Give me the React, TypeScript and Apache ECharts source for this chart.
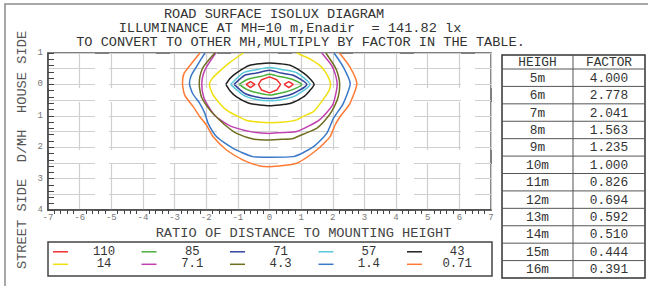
import React, { useEffect, useRef } from "react";
import * as echarts from "echarts";

const titleLines = [
  "ROAD SURFACE ISOLUX DIAGRAM",
  "ILLUMINANCE AT MH=10 m,Enadir  = 141.82 lx",
  "TO CONVERT TO OTHER MH,MULTIPLY BY FACTOR IN THE TABLE.",
];
const xName = "RATIO OF DISTANCE TO MOUNTING HEIGHT";
const yName = "STREET SIDE  D/MH  HOUSE SIDE";

const levels = ["110", "85", "71", "57", "43", "14", "7.1", "4.3", "1.4", "0.71"];
const tableHeader = ["HEIGH", "FACTOR"];
const heights = ["5m", "6m", "7m", "8m", "9m", "10m", "11m", "12m", "13m", "14m", "15m", "16m"];
const factors = ["4.000", "2.778", "2.041", "1.563", "1.235", "1.000", "0.826", "0.694", "0.592", "0.510", "0.444", "0.391"];

// contour polylines [x ratio, y ratio] (house side positive)
const c110center = [[-0.35, 0], [-0.25, 0.15], [0, 0.24], [0.23, 0.15], [0.35, 0], [0.23, -0.18], [0, -0.27], [-0.25, -0.18], [-0.35, 0]];
const c110left = [[-0.74, 0], [-0.6, 0.09], [-0.46, 0], [-0.6, -0.1], [-0.74, 0]];
const c110right = [[0.46, 0], [0.61, 0.09], [0.75, 0], [0.61, -0.1], [0.46, 0]];
const c85 = [[-0.96, 0], [-0.72, 0.15], [-0.46, 0.22], [-0.25, 0.26], [0, 0.32], [0.28, 0.26], [0.5, 0.22], [0.75, 0.15], [1.02, 0], [0.75, -0.16], [0.5, -0.24], [0, -0.34], [-0.5, -0.24], [-0.72, -0.16], [-0.96, 0]];
const c71 = [[-1.12, 0], [-0.78, 0.29], [-0.41, 0.36], [0, 0.45], [0.37, 0.36], [0.75, 0.29], [1.18, 0], [0.75, -0.29], [0.37, -0.4], [0, -0.45], [-0.41, -0.4], [-0.78, -0.29], [-1.12, 0]];
const c57 = [[-1.23, 0], [-0.83, 0.37], [-0.41, 0.47], [0, 0.54], [0.42, 0.47], [0.86, 0.37], [1.28, 0], [0.86, -0.34], [0.42, -0.48], [0, -0.52], [-0.41, -0.48], [-0.83, -0.34], [-1.23, 0]];
const c43 = [[-1.38, 0], [-1.25, 0.19], [-1.04, 0.37], [-0.62, 0.61], [0, 0.68], [0.65, 0.61], [1.07, 0.37], [1.27, 0.19], [1.41, 0], [1.27, -0.2], [1.07, -0.4], [0.65, -0.61], [0, -0.68], [-0.62, -0.61], [-1.04, -0.4], [-1.25, -0.2], [-1.38, 0]];
const c14 = [[-0.83, 1.0], [-1.25, 0.7], [-1.6, 0.4], [-1.8, 0.2], [-1.9, 0.0], [-1.8, -0.3], [-1.57, -0.61], [-1.36, -0.82], [-1.0, -1.02], [-0.72, -1.15], [-0.35, -1.2], [0, -1.22], [0.45, -1.2], [0.86, -1.13], [1.1, -1.0], [1.4, -0.86], [1.72, -0.45], [1.88, -0.2], [1.93, 0.0], [1.85, 0.25], [1.65, 0.55], [1.3, 0.8], [0.86, 1.0]];
const c7_1 = [[-1.7, 1.0], [-1.99, 0.56], [-2.1, 0.3], [-2.14, 0.0], [-2.08, -0.4], [-1.92, -0.72], [-1.72, -1.0], [-1.45, -1.2], [-1.15, -1.36], [-0.52, -1.52], [0, -1.56], [0.5, -1.53], [0.86, -1.5], [1.25, -1.32], [1.59, -1.12], [1.85, -0.85], [2.02, -0.6], [2.14, 0.0], [2.07, 0.35], [1.96, 0.61], [1.65, 1.0]];
const c4_3 = [[-1.73, 1.0], [-2.09, 0.56], [-2.2, 0.25], [-2.22, 0.0], [-2.15, -0.4], [-1.88, -0.82], [-1.57, -1.14], [-1.3, -1.38], [-1.04, -1.56], [-0.52, -1.74], [0, -1.77], [0.4, -1.75], [0.75, -1.72], [1.15, -1.55], [1.49, -1.4], [1.75, -1.15], [1.96, -0.87], [2.17, -0.4], [2.22, 0.0], [2.17, 0.3], [2.07, 0.56], [1.78, 1.0]];
const c1_4 = [[-2.04, 1.0], [-2.31, 0.56], [-2.47, 0.29], [-2.53, 0.03], [-2.43, -0.29], [-2.2, -0.61], [-2.04, -0.93], [-1.94, -1.24], [-1.67, -1.67], [-1.15, -2.04], [-0.52, -2.3], [0, -2.32], [0.75, -2.3], [1.38, -1.99], [1.81, -1.56], [2.02, -1.08], [2.33, -0.61], [2.55, 0.03], [2.33, 0.56], [2.04, 1.0]];
const c0_71 = [[-2.2, 1.0], [-2.47, 0.66], [-2.7, 0.35], [-2.75, 0.03], [-2.68, -0.34], [-2.41, -0.71], [-2.2, -1.03], [-1.99, -1.3], [-1.78, -1.67], [-1.36, -2.09], [-0.83, -2.41], [-0.3, -2.6], [0, -2.62], [0.86, -2.51], [1.49, -2.09], [1.91, -1.67], [2.07, -1.3], [2.23, -1.03], [2.54, -0.61], [2.76, 0.03], [2.54, 0.56], [2.21, 1.0]];

const contours: [number, number[][]][] = [
  [0, c110center], [0, c110left], [0, c110right],
  [1, c85], [2, c71], [3, c57], [4, c43],
  [5, c14], [6, c7_1], [7, c4_3], [8, c1_4], [9, c0_71],
];

const colors = ["#f03030", "#4caf3c", "#34449c", "#58c8da", "#202020", "#f0e010", "#c040b0", "#6e6e1e", "#3a78c8", "#ff7b33"];
const FONT = "'Liberation Mono', 'DejaVu Sans Mono', monospace";

function buildOption() {
  const graphic: any[] = [];
  graphic.push({ type: "rect", shape: { x: 5, y: 4, width: 700, height: 400 }, style: { fill: "none", stroke: "#8a8a8a", lineWidth: 1.5 }, silent: true });
  const titleX = [274, 290, 300.5];
  const titleY = [14.6, 28.3, 42];
  titleLines.forEach((t, i) => {
    graphic.push({ type: "text", x: titleX[i], y: titleY[i], style: { text: t, fontSize: 13.6, fontFamily: FONT, fill: "#333", align: "center", verticalAlign: "middle" } });
  });
  graphic.push({ type: "text", x: 22, y: 150, rotation: Math.PI / 2, style: { text: yName, fontSize: 13.7, fontFamily: FONT, fill: "#555", align: "center", verticalAlign: "middle" } });
  graphic.push({ type: "text", x: 303.5, y: 233, style: { text: xName, fontSize: 13.7, fontFamily: FONT, fill: "#444", align: "center", verticalAlign: "middle" } });
  // legend
  graphic.push({ type: "rect", shape: { x: 48, y: 242, width: 444, height: 34 }, style: { fill: "none", stroke: "#444", lineWidth: 1.5 } });
  levels.forEach((lv, i) => {
    const row = Math.floor(i / 5);
    const col = i % 5;
    const ly = 251.8 + row * 12.5;
    const lx = 53 + col * 88.5;
    graphic.push({ type: "line", shape: { x1: lx, y1: ly, x2: lx + 15, y2: ly }, style: { stroke: colors[i], lineWidth: 1.5 } });
    graphic.push({ type: "text", x: 104 + col * 88.3, y: ly, style: { text: lv, fontSize: 12.3, fontFamily: FONT, fill: "#333", align: "center", verticalAlign: "middle" } });
  });
  // table
  const tL = 502, tR = 645, tT = 55, tB = 278, tD = 573, hH = 14;
  const rowH = (tB - tT - hH) / heights.length;
  graphic.push({ type: "rect", shape: { x: tL, y: tT, width: tR - tL, height: tB - tT }, style: { fill: "none", stroke: "#333", lineWidth: 1.5 } });
  graphic.push({ type: "line", shape: { x1: tD, y1: tT, x2: tD, y2: tB }, style: { stroke: "#555", lineWidth: 1 } });
  graphic.push({ type: "text", x: (tL + tD) / 2, y: tT + hH / 2 + 0.5, style: { text: tableHeader[0], fontSize: 12.8, fontFamily: FONT, fill: "#333", align: "center", verticalAlign: "middle" } });
  graphic.push({ type: "text", x: (tD + tR) / 2, y: tT + hH / 2 + 0.5, style: { text: tableHeader[1], fontSize: 12.8, fontFamily: FONT, fill: "#333", align: "center", verticalAlign: "middle" } });
  heights.forEach((h, i) => {
    const y0 = tT + hH + i * rowH;
    graphic.push({ type: "line", shape: { x1: tL, y1: y0, x2: tR, y2: y0 }, style: { stroke: "#555", lineWidth: 1 } });
    graphic.push({ type: "text", x: (tL + tD) / 2, y: y0 + rowH / 2 + 0.5, style: { text: h, fontSize: 12.8, fontFamily: FONT, fill: "#333", align: "center", verticalAlign: "middle" } });
    graphic.push({ type: "text", x: (tD + tR) / 2, y: y0 + rowH / 2 + 0.5, style: { text: factors[i], fontSize: 12.8, fontFamily: FONT, fill: "#333", align: "center", verticalAlign: "middle" } });
  });

  const series = contours.map(([li, data]) => ({
    type: "line",
    data,
    showSymbol: false,
    symbol: "none",
    smooth: li === 0 ? false : 0.2,
    clip: true,
    silent: true,
    lineStyle: { color: colors[li], width: 1.5 },
    xAxisIndex: 0,
    yAxisIndex: 0,
  }));

  return {
    animation: false,
    backgroundColor: "#fff",
    grid: { left: 48, top: 53, width: 443, height: 157, show: true, borderColor: "#555", borderWidth: 1.5, backgroundColor: "transparent" },
    xAxis: {
      type: "value",
      min: -7,
      max: 7,
      interval: 1,
      axisLine: { onZero: false, lineStyle: { color: "#444", width: 1.5 } },
      axisTick: { show: false },
      minorTick: { show: true, splitNumber: 5, length: 4, lineStyle: { color: "#444", width: 1 } },
      axisLabel: { fontSize: 9, fontFamily: FONT, color: "#777", margin: 3 },
      splitLine: { show: true, lineStyle: { color: "#cfcfcf", width: 1.2, type: [48, 14], dashOffset: 13 } },
    },
    yAxis: [
      {
        type: "value",
        min: -4,
        max: 1,
        interval: 1,
        axisLine: { onZero: false, lineStyle: { color: "#444", width: 1.5 } },
        axisTick: { show: true, inside: true, length: 6, lineStyle: { color: "#444", width: 1 } },
        minorTick: { show: true, splitNumber: 5, length: 6, lineStyle: { color: "#444", width: 1 } },
        axisLabel: { fontSize: 9, fontFamily: FONT, color: "#777", margin: 5, formatter: (v: number) => String(Math.abs(v)) },
        splitLine: { show: false },
      },
      {
        type: "value",
        min: -4,
        max: 1,
        interval: 0.5,
        position: "left",
        axisLine: { show: false, onZero: false },
        axisTick: { show: false },
        axisLabel: { show: false },
        splitLine: { show: true, lineStyle: { color: "#cfcfcf", width: 1.2, type: [47, 14], dashOffset: 0 } },
      },
    ],
    series,
    graphic,
  };
}

export default function App() {
  const ref = useRef<HTMLDivElement>(null);
  useEffect(() => {
    const chart = echarts.init(ref.current!, null, { renderer: "svg" });
    chart.setOption(buildOption() as any);
    return () => chart.dispose();
  }, []);
  return <div ref={ref} style={{ position: "fixed", left: 0, top: 0, width: 648, height: 286, background: "#fff" }} />;
}
